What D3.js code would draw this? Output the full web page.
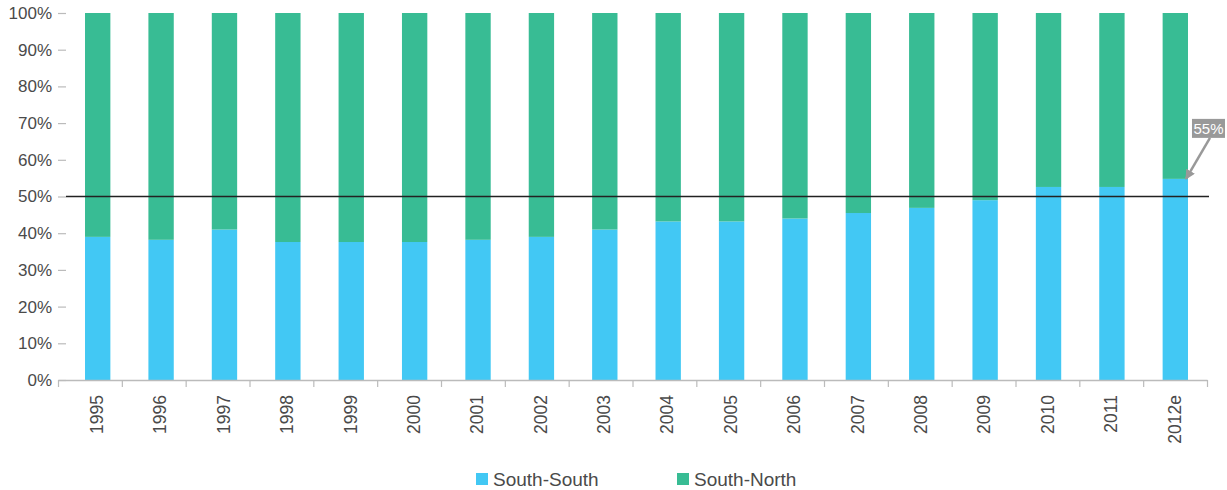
<!DOCTYPE html>
<html>
<head>
<meta charset="utf-8">
<script src="https://cdn.jsdelivr.net/npm/d3@7/dist/d3.min.js"></script>
<style>
  html, body { margin: 0; padding: 0; background: #fff; }
  svg { display: block; }
  text { font-family: "Liberation Sans", Arial, sans-serif; }
</style>
</head>
<body>
<svg id="chart" width="1227" height="490"></svg>
<script>
const years = ["1995","1996","1997","1998","1999","2000","2001","2002","2003","2004","2005","2006","2007","2008","2009","2010","2011","2012e"];
const southSouth = [39.0,38.2,41.0,37.6,37.6,37.6,38.2,39.0,41.0,43.2,43.2,44.0,45.5,46.9,49.0,52.6,52.6,54.8];
const southNorth = southSouth.map(v => 100 - v);
const seriesNames = ["South-South","South-North"];
const yTicks = [0,10,20,30,40,50,60,70,80,90,100];
const referenceValue = 50;
const annotationLabel = "55%";

const colors = {"South-South": "#42C8F4", "South-North": "#38BC94"};

const svg = d3.select("#chart");

const y = d3.scaleLinear().domain([0, 100]).range([380, 13]);
const x = d3.scaleBand().domain(years).range([66, 1207]).paddingInner(0.6).paddingOuter(0.3);
const xTicksScale = d3.scaleLinear().domain([0, years.length]).range([58, 1207]);

const rows = years.map((yr, i) => ({year: yr, "South-South": southSouth[i], "South-North": southNorth[i]}));
const stack = d3.stack().keys(seriesNames)(rows);

svg.append("g").selectAll("g").data(stack).join("g")
  .attr("fill", d => colors[d.key])
  .selectAll("rect").data(d => d).join("rect")
  .attr("x", d => x(d.data.year))
  .attr("width", x.bandwidth())
  .attr("y", d => y(d[1]))
  .attr("height", d => y(d[0]) - y(d[1]));

// Y axis
const yAxis = svg.append("g").attr("transform", "translate(66,0)")
  .call(d3.axisLeft(y).tickValues(yTicks).tickFormat(d => d + "%").tickSize(8).tickPadding(6));
yAxis.select(".domain").remove();
yAxis.selectAll(".tick line").attr("stroke", "#bbb").attr("stroke-width", 1.2);
yAxis.selectAll(".tick text").attr("fill", "#4a4a4a").style("font-size", "17px");

// X axis baseline and ticks
const xAxisTicks = svg.append("g").attr("transform", "translate(0,380)")
  .call(d3.axisBottom(xTicksScale).tickValues(d3.range(years.length + 1)).tickFormat("").tickSize(7).tickSizeOuter(0));
xAxisTicks.select(".domain").attr("stroke", "#bbb").attr("stroke-width", 1.5);
xAxisTicks.selectAll(".tick line").attr("stroke", "#bbb").attr("stroke-width", 1.2);

// X labels
const xLab = svg.append("g").attr("transform", "translate(0,380)")
  .call(d3.axisBottom(x).tickSize(0).tickPadding(0));
xLab.select(".domain").remove();
xLab.selectAll(".tick text")
  .attr("fill", "#4a4a4a").style("font-size", "17.5px")
  .attr("text-anchor", "end")
  .attr("transform", "rotate(-90)")
  .attr("x", -15).attr("y", 0).attr("dy", "0.3em");

// Reference line at 50%
svg.append("line")
  .attr("x1", 66).attr("x2", 1209)
  .attr("y1", y(referenceValue)).attr("y2", y(referenceValue))
  .attr("stroke", "#222").attr("stroke-width", 1.5);

// Annotation
const last = years[years.length - 1];
const tipX = x(last) + x.bandwidth() - 2;
const tipY = y(southSouth[southSouth.length - 1]);
svg.append("defs").append("marker")
  .attr("id", "arr").attr("viewBox", "0 0 10 10").attr("refX", 9).attr("refY", 5)
  .attr("markerWidth", 4).attr("markerHeight", 4).attr("orient", "auto")
  .append("path").attr("d", "M0,0 L10,5 L0,10 Z").attr("fill", "#999");
svg.append("line")
  .attr("x1", tipX + 24).attr("y1", tipY - 41)
  .attr("x2", tipX).attr("y2", tipY)
  .attr("stroke", "#999").attr("stroke-width", 2.5)
  .attr("marker-end", "url(#arr)");
svg.append("rect")
  .attr("x", tipX + 6).attr("y", tipY - 60).attr("width", 33).attr("height", 19)
  .attr("fill", "#999");
svg.append("text")
  .attr("x", tipX + 22.5).attr("y", tipY - 50.5).attr("dy", "0.35em")
  .attr("text-anchor", "middle").attr("fill", "#fff").style("font-size", "15px")
  .text(annotationLabel);

// Legend
const legendX = [476, 677];
const lg = svg.append("g").selectAll("g").data(seriesNames).join("g")
  .attr("transform", (d, i) => `translate(${legendX[i]},473)`);
lg.append("rect").attr("width", 12).attr("height", 12).attr("fill", d => colors[d]);
lg.append("text").attr("x", 17).attr("y", 12.5).attr("fill", "#4a4a4a")
  .style("font-size", "19px").text(d => d);
</script>
</body>
</html>
